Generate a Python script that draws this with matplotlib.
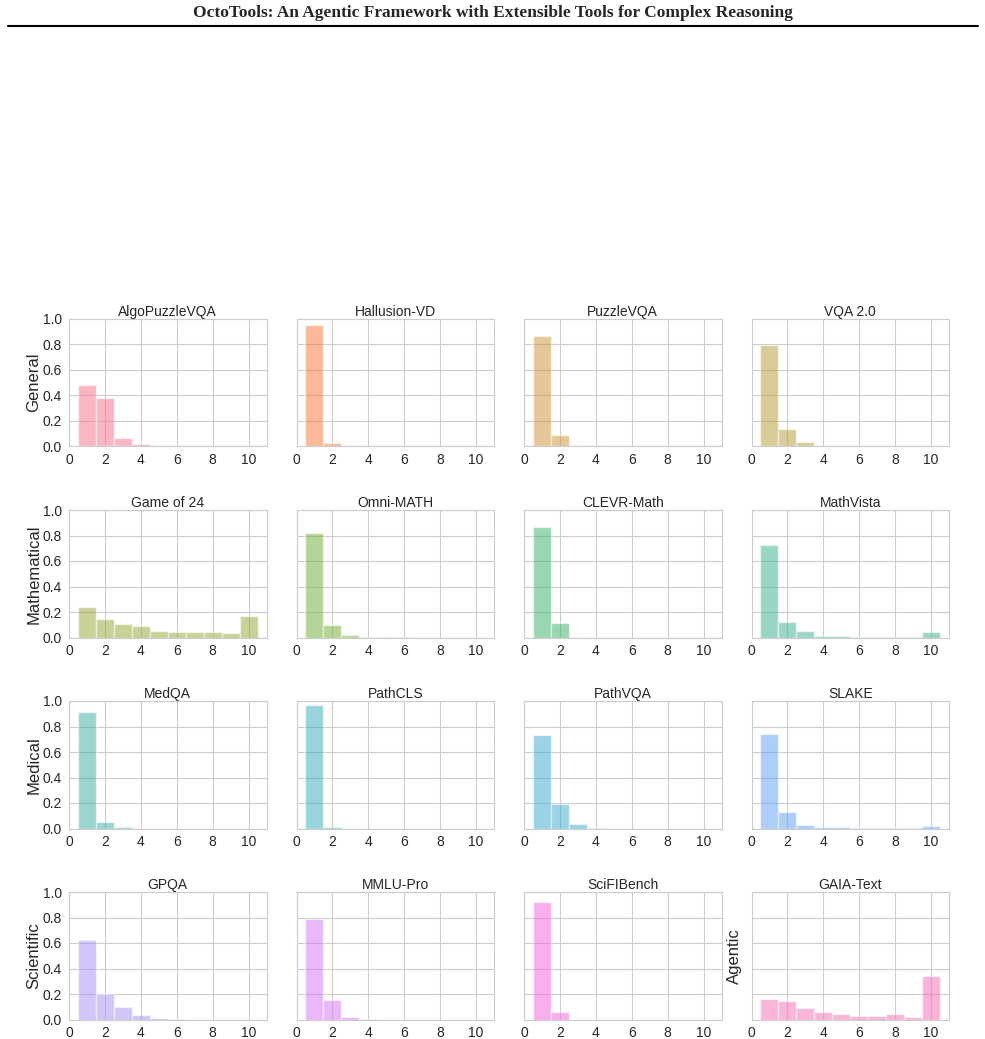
'''
Tool-step distribution per benchmark, 4x4 grid of histograms.
'''
import numpy as np
import seaborn as sns
import matplotlib as mpl
from matplotlib import pyplot as plt

sns.set_style('whitegrid')
plt.rcParams['font.family'] = ['Liberation Sans', 'DejaVu Sans']

steps = np.arange(1, 11)

names = ['AlgoPuzzleVQA', 'Hallusion-VD', 'PuzzleVQA', 'VQA 2.0',
         'Game of 24', 'Omni-MATH', 'CLEVR-Math', 'MathVista',
         'MedQA', 'PathCLS', 'PathVQA', 'SLAKE',
         'GPQA', 'MMLU-Pro', 'SciFIBench', 'GAIA-Text']

algopuzzle = [0.48, 0.38, 0.065, 0.02, 0.007, 0.002, 0.0, 0.003, 0.0, 0.0]
hallusion  = [0.95, 0.03, 0.005, 0, 0, 0, 0, 0, 0, 0]
puzzlevqa  = [0.866, 0.087, 0.003, 0.013, 0, 0, 0, 0, 0, 0]
vqa2       = [0.795, 0.136, 0.032, 0, 0, 0, 0, 0, 0, 0]
game24     = [0.237, 0.145, 0.105, 0.087, 0.048, 0.040, 0.040, 0.040, 0.038, 0.169]
omnimath   = [0.823, 0.095, 0.021, 0.004, 0.004, 0.006, 0, 0, 0, 0]
clevrmath  = [0.868, 0.116, 0, 0, 0, 0, 0, 0, 0, 0]
mathvista  = [0.723, 0.119, 0.048, 0.010, 0.010, 0.001, 0.001, 0.001, 0.001, 0.040]
medqa      = [0.917, 0.053, 0.008, 0, 0, 0, 0, 0, 0, 0]
pathcls    = [0.97, 0.01, 0, 0, 0, 0, 0, 0, 0, 0]
pathvqa    = [0.735, 0.195, 0.035, 0.003, 0, 0, 0, 0, 0, 0]
slake      = [0.743, 0.126, 0.026, 0.010, 0.008, 0.007, 0.001, 0.001, 0.001, 0.020]
gpqa       = [0.62, 0.20, 0.095, 0.035, 0.010, 0.003, 0, 0, 0, 0]
mmlupro    = [0.79, 0.155, 0.020, 0.003, 0, 0, 0, 0, 0, 0]
scifibench = [0.925, 0.055, 0, 0, 0, 0, 0, 0, 0, 0]
gaiatext   = [0.157, 0.142, 0.087, 0.060, 0.044, 0.031, 0.024, 0.044, 0.018, 0.339]

values = [algopuzzle, hallusion, puzzlevqa, vqa2,
          game24, omnimath, clevrmath, mathvista,
          medqa, pathcls, pathvqa, slake,
          gpqa, mmlupro, scifibench, gaiatext]

row_labels = ['General', 'Mathematical', 'Medical', 'Scientific']
colors = sns.color_palette('husl', 16)

W, H = 985, 1039
fig = plt.figure(figsize=(W/100, H/100), dpi=100)

# header like a paper page
fig.text(0.5, 1 - 13/H, 'OctoTools: An Agentic Framework with Extensible Tools for Complex Reasoning',
         ha='center', va='center', fontsize=12.5, fontweight='bold', family='Liberation Serif')
fig.add_artist(mpl.lines.Line2D([8/W, 978/W], [1 - 25.5/H, 1 - 25.5/H], color='k', lw=1.5))

x0, y0 = 69, 319
aw, ah = 197.5, 127.5
dx, dy = 227.5, 191

for i, (name, vals) in enumerate(zip(names, values)):
    r, c = divmod(i, 4)
    left = x0 + c*dx
    top = y0 + r*dy
    ax = fig.add_axes([left/W, 1 - (top + ah)/H, aw/W, ah/H])
    ax.bar(steps, vals, width=1.0, color=colors[i], alpha=0.5, edgecolor='white', lw=1)
    ax.set_xlim(0, 11)
    ax.set_ylim(0, 1.0)
    ax.set_xticks([0, 2, 4, 6, 8, 10])
    ax.set_yticks([0, 0.2, 0.4, 0.6, 0.8, 1.0])
    ax.tick_params(labelsize=10, pad=1.5, colors='0.15')
    ax.set_title(name, fontsize=10, pad=2, color='0.15')
    if c == 0:
        ax.set_ylabel(row_labels[r], fontsize=12, labelpad=1, color='0.15')
    else:
        ax.set_yticklabels([])
    if i == 15:
        ax.set_ylabel('Agentic', fontsize=12, labelpad=2, color='0.15')

plt.savefig('out.png', dpi=100)
